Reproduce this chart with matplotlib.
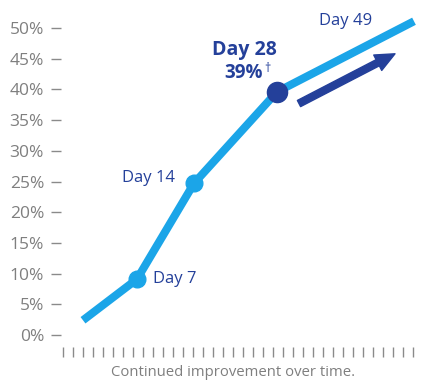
import matplotlib
matplotlib.use("Agg")
import matplotlib.pyplot as plt
from matplotlib.patches import FancyArrowPatch

# ---- data ----
x_pos = [2.0, 7.4, 13.1, 21.4, 35.1]
y_vals = [2.4, 9.1, 24.7, 39.6, 51.1]
day_labels = ["", "Day 7", "Day 14", "Day 28", "Day 49"]
y_ticks = [0, 5, 10, 15, 20, 25, 30, 35, 40, 45, 50]
y_tick_labels = [f"{v}%" for v in y_ticks]
x_ticks = list(range(36))
highlight_label = "39%"
caption = "Continued improvement over time."
arrow_start = (23.6, 37.7)
arrow_end = (33.2, 45.8)

LIGHT = "#1ba5e8"
NAVY = "#24409a"
GRAY = "#7f7f7f"
FONT = ["Open Sans", "DejaVu Sans"]
plt.rcParams["font.family"] = FONT

W, H = 426, 388
fig = plt.figure(figsize=(W / 100, H / 100), dpi=100)
left_px, right_px, top_px, bot_px = 61, 418, 10, 347
ax = fig.add_axes([left_px / W, 1 - bot_px / H, (right_px - left_px) / W, (bot_px - top_px) / H])

# x: tick 0 at px 63, 10 px spacing ; y: 0% at px 335, 6.14 px per %
x0 = -(63 - left_px) / 10
ax.set_xlim(x0, x0 + (right_px - left_px) / 10)
ax.set_ylim(-(bot_px - 335) / 6.14, (335 - top_px) / 6.14)

for s in ax.spines.values():
    s.set_visible(False)

ax.set_yticks(y_ticks)
ax.set_yticklabels(y_tick_labels)
ax.set_xticks(x_ticks)
ax.set_xticklabels([])
ax.tick_params(axis="y", direction="out", length=7.2, width=1.0, color="#8a8a8a",
               pad=5, labelsize=12.5, labelcolor=GRAY)
ax.tick_params(axis="x", direction="out", length=7.2, width=1.0, color="#8a8a8a")

# line
ax.plot(x_pos, y_vals, color=LIGHT, lw=5.8, solid_capstyle="butt",
        solid_joinstyle="round", clip_on=False, zorder=3)
# markers
ax.plot(x_pos[1:3], y_vals[1:3], "o", color=LIGHT, ms=12, zorder=4)
ax.plot([x_pos[3]], [y_vals[3]], "o", color=NAVY, ms=14.5, zorder=5)

# labels
ax.annotate(day_labels[1], (x_pos[1], y_vals[1]), xytext=(11.5, 0), textcoords="offset points",
            ha="left", va="center", color=NAVY, fontsize=12)
ax.annotate(day_labels[2], (x_pos[2], y_vals[2]), xytext=(-14, 4), textcoords="offset points",
            ha="right", va="center", color=NAVY, fontsize=12)
ax.annotate(day_labels[3], (x_pos[3], y_vals[3]), xytext=(0, 30), textcoords="offset points",
            ha="right", va="center", color=NAVY, fontsize=14, fontweight="bold")
ax.annotate(highlight_label, (x_pos[3], y_vals[3]), xytext=(-10, 13.5), textcoords="offset points",
            ha="right", va="center", color=NAVY, fontsize=13.5, fontweight="bold")
ax.annotate("\u2020", (x_pos[3], y_vals[3]), xytext=(-9.5, 17), textcoords="offset points",
            ha="left", va="center", color=NAVY, fontsize=9)
ax.annotate(day_labels[4], (x_pos[4], y_vals[4]), xytext=(-30, 0), textcoords="offset points",
            ha="right", va="center", color=NAVY, fontsize=12)

arrow = FancyArrowPatch(arrow_start, arrow_end,
                        arrowstyle="simple,head_length=14,head_width=12.5,tail_width=5",
                        mutation_scale=1, color=NAVY, shrinkA=0, shrinkB=0, zorder=5)
ax.add_patch(arrow)

fig.text(233.5 / W, 1 - 372.5 / H, caption, ha="center", va="center", color=GRAY, fontsize=10.7)

fig.savefig("out.png", dpi=100)
